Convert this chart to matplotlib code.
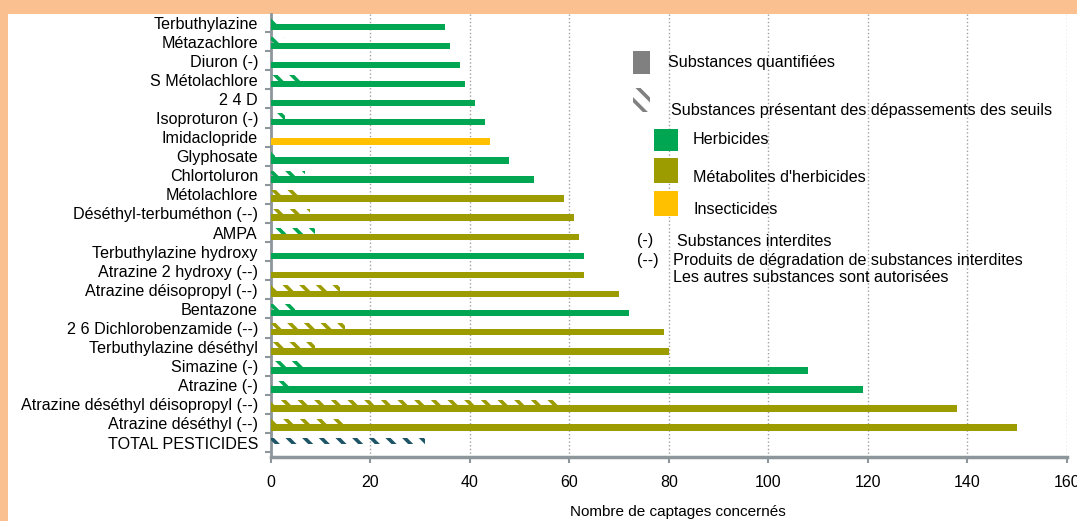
import numpy as np
import matplotlib
matplotlib.use("Agg")
import matplotlib.pyplot as plt
from matplotlib.patches import Rectangle

plt.rcParams["font.family"] = ["Liberation Sans", "DejaVu Sans"]
plt.rcParams["hatch.linewidth"] = 2.6

# Data (bottom to top)
substances = [
    "TOTAL PESTICIDES",
    "Atrazine déséthyl (--)",
    "Atrazine déséthyl déisopropyl (--)",
    "Atrazine (-)",
    "Simazine (-)",
    "Terbuthylazine déséthyl",
    "2 6 Dichlorobenzamide (--)",
    "Bentazone",
    "Atrazine déisopropyl (--)",
    "Atrazine 2 hydroxy (--)",
    "Terbuthylazine hydroxy",
    "AMPA",
    "Déséthyl-terbuméthon (--)",
    "Métolachlore",
    "Chlortoluron",
    "Glyphosate",
    "Imidaclopride",
    "Isoproturon (-)",
    "2 4 D",
    "S Métolachlore",
    "Diuron (-)",
    "Métazachlore",
    "Terbuthylazine",
]
quantified = [0, 150, 138, 119, 108, 80, 79, 72, 70, 63, 63, 62, 61, 59,
              53, 48, 44, 43, 41, 39, 38, 36, 35]
exceeding = [31, 15, 59, 5, 7, 9, 15, 5, 14, 0, 0, 9, 8, 6,
             7, 1, 0, 3, 0, 6, 0, 3, 2]
# H = herbicide, M = métabolite, I = insecticide, T = total
bar_type = ["T", "M", "M", "H", "H", "M", "M", "H", "M", "M", "H", "M", "M", "M",
            "H", "H", "I", "H", "H", "H", "H", "H", "H"]
hatch_type = ["T", "M", "M", "H", "H", "M", "M", "H", "M", "M", "H", "H", "M", "M",
              "H", "H", "I", "H", "H", "H", "H", "H", "H"]
xticks = [0, 20, 40, 60, 80, 100, 120, 140, 160]

colors = {"H": "#00A651", "M": "#9C9C00", "I": "#FFC000", "T": "#1D5566"}
W, H = 1077, 521
FS = 11.6

fig = plt.figure(figsize=(W / 100, H / 100), dpi=100, facecolor="#FAC090")
fig.add_artist(Rectangle((8 / W, 0), 1, (H - 14) / H, transform=fig.transFigure,
                         facecolor="white", edgecolor="none", zorder=-1))

ax = fig.add_axes([270.5 / W, 1 - 456.5 / H, 796.5 / W, 442.5 / H])
y = np.arange(len(substances))

ax.barh(y - 0.22, quantified, height=0.34,
        color=[colors[t] for t in bar_type], linewidth=0, zorder=3)
ax.barh(y + 0.10, exceeding, height=0.30, facecolor="none",
        edgecolor=[colors[t] for t in hatch_type], hatch="\\\\", linewidth=0, zorder=3)

ax.set_xlim(0, 160)
ax.set_ylim(-0.73, 22.45)
ax.set_xticks(xticks)
ax.set_xticklabels([str(v) for v in xticks], fontsize=11.5)
ax.set_yticks(y)
ax.set_yticklabels(substances, fontsize=FS)
ax.set_yticks(np.arange(-0.5, 22.5, 1), minor=True)
ax.tick_params(axis="y", which="major", length=0, pad=9)
ax.tick_params(axis="y", which="minor", length=4, width=1.5, color="#8C969B")
ax.tick_params(axis="x", length=4, width=1.5, color="#8C969B", pad=9)

ax.grid(axis="x", linestyle=":", color="#A0A0A0", linewidth=1.0)
ax.set_axisbelow(True)
for side in ["top", "right"]:
    ax.spines[side].set_visible(False)
ax.spines["left"].set_color("#8C969B")
ax.spines["left"].set_linewidth(2)
ax.spines["bottom"].set_color("#8C969B")
ax.spines["bottom"].set_linewidth(2.5)

ax.set_xlabel("Nombre de captages concernés", fontsize=11)
ax.xaxis.set_label_coords(0.512, -0.11)


# Legend drawn in figure pixels
def fig_rect(x, y0, w, h, **kw):
    fig.add_artist(Rectangle((x / W, 1 - (y0 + h) / H), w / W, h / H,
                             transform=fig.transFigure, **kw))


def fig_text(x, yc, s):
    fig.text(x / W, 1 - yc / H, s, fontsize=FS, va="center", ha="left")


fig_rect(633, 51, 17, 23, facecolor="#808080", edgecolor="none")
fig_text(668, 63, "Substances quantifiées")
fig_rect(633, 88, 17, 24, facecolor="none", edgecolor="#808080", hatch="\\\\", linewidth=0)
fig_text(671, 110, "Substances présentant des dépassements des seuils")
fig_rect(654, 129, 24, 22, facecolor=colors["H"], edgecolor="none")
fig_text(693, 140, "Herbicides")
fig_rect(654, 158, 24, 25, facecolor=colors["M"], edgecolor="none")
fig_text(693, 178, "Métabolites d'herbicides")
fig_rect(654, 191, 24, 25, facecolor=colors["I"], edgecolor="none")
fig_text(693, 210, "Insecticides")
fig_text(637, 241, "(-)")
fig_text(677, 241, "Substances interdites")
fig_text(637, 260, "(--)")
fig_text(673, 260, "Produits de dégradation de substances interdites")
fig_text(673, 278, "Les autres substances sont autorisées")

fig.savefig("out.png", dpi=100, facecolor=fig.get_facecolor())
